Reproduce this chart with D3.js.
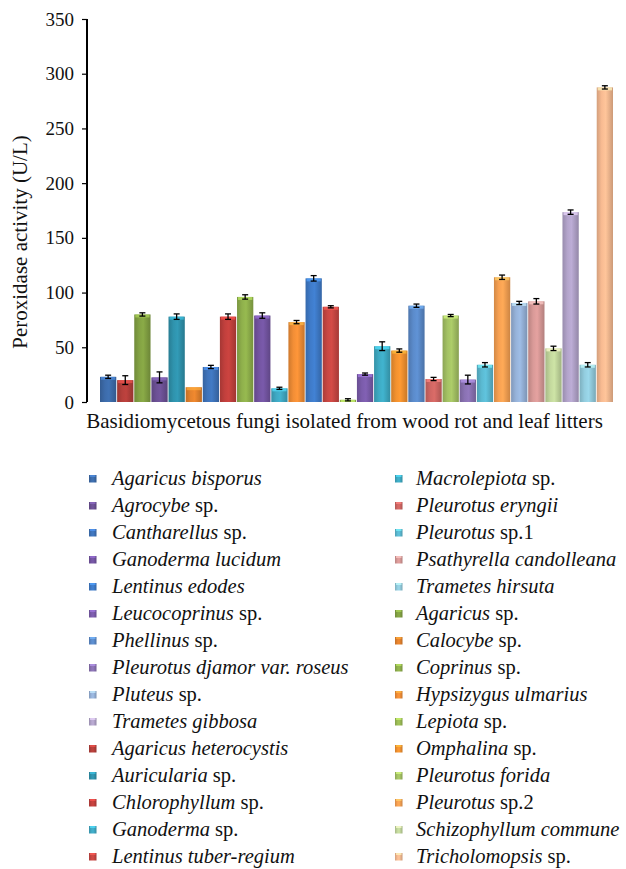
<!DOCTYPE html>
<html>
<head>
<meta charset="utf-8">
<script src="https://cdn.jsdelivr.net/npm/d3@7"></script>
<style>
  body { margin: 0; background: #fff; }
  svg { display: block; }
  svg text { font-family: "Liberation Serif", "DejaVu Serif", serif; }
</style>
</head>
<body>
<div id="chart"></div>
<script>
// bar order (Excel series order), alphabetical
const species = [
  "Agaricus bisporus", "Agaricus heterocystis", "Agaricus sp.", "Agrocybe sp.",
  "Auricularia sp.", "Calocybe sp.", "Cantharellus sp.", "Chlorophyllum sp.",
  "Coprinus sp.", "Ganoderma lucidum", "Ganoderma sp.", "Hypsizygus ulmarius",
  "Lentinus edodes", "Lentinus tuber-regium", "Lepiota sp.", "Leucocoprinus sp.",
  "Macrolepiota sp.", "Omphalina sp.", "Phellinus sp.", "Pleurotus eryngii",
  "Pleurotus forida", "Pleurotus djamor var. roseus", "Pleurotus sp.1", "Pleurotus sp.2",
  "Pluteus sp.", "Psathyrella candolleana", "Schizophyllum commune", "Trametes gibbosa",
  "Trametes hirsuta", "Tricholomopsis sp."
];
const activity = [23, 20, 80, 22.5, 78, 13.5, 32, 78, 96, 79, 12.5, 73, 113, 87, 2,
  25.5, 51, 47, 88, 21, 79, 20.5, 34, 114, 90.5, 92, 49, 173.5, 34, 287.5];
const stdErr = [1.5, 4, 1.5, 5, 2.5, 0, 1.5, 2.5, 2, 2.5, 1, 1.5, 2.5, 1, 1,
  1, 4, 1.5, 1.5, 1.5, 1, 4, 2, 2, 1.5, 2.5, 2, 2, 2, 1.5];
const barColors = [
  "#3d6cab", "#b53f3b", "#83a243", "#6c5195", "#2f93ad", "#e4822d",
  "#3f74bb", "#c2403d", "#8fb04c", "#7455a2", "#3fa9c4", "#f28e36",
  "#3f7bc9", "#c94743", "#9bbc55", "#7b5cab", "#3eabc4", "#f3922f",
  "#5b8bcb", "#d06663", "#a4c264", "#8a72b3", "#5bbad2", "#f8a152",
  "#97b3da", "#d99a98", "#c3d89d", "#b3a4cb", "#93cddf", "#f8bb92"
];
const legendCol1 = [0, 3, 6, 9, 12, 15, 18, 21, 24, 27, 1, 4, 7, 10, 13];
const legendCol2 = [16, 19, 22, 25, 28, 2, 5, 8, 11, 14, 17, 20, 23, 26, 29];
const yTicks = [0, 50, 100, 150, 200, 250, 300, 350];

const width = 626, height = 869;
const axisX = 87, y0 = 402, yTop = 19;
const serif = "'Liberation Serif', 'DejaVu Serif', serif";

const svg = d3.select("#chart").append("svg")
  .attr("width", width)
  .attr("height", height)
  .attr("font-family", serif);

const defs = svg.append("defs");

// shaded bars: dark edges, light centre
barColors.forEach((c, i) => {
  const base = d3.color(c);
  const g = defs.append("linearGradient")
    .attr("id", "grad" + i)
    .attr("x1", 0).attr("x2", 1).attr("y1", 0).attr("y2", 0);
  g.append("stop").attr("offset", "0%").attr("stop-color", base.darker(0.45));
  g.append("stop").attr("offset", "30%").attr("stop-color", base);
  g.append("stop").attr("offset", "55%").attr("stop-color", base.brighter(0.15));
  g.append("stop").attr("offset", "100%").attr("stop-color", base.darker(0.55));
});

const x = d3.scaleBand()
  .domain(d3.range(species.length))
  .range([100, 613])
  .paddingInner(0.05);

const y = d3.scaleLinear()
  .domain([0, 350])
  .range([y0, yTop]);

// bars
const bars = svg.append("g").attr("class", "bars");
bars.selectAll("rect.bar")
  .data(activity)
  .join("rect")
  .attr("class", "bar")
  .attr("x", (d, i) => x(i))
  .attr("y", d => y(d))
  .attr("width", x.bandwidth())
  .attr("height", d => y0 - y(d))
  .attr("fill", (d, i) => `url(#grad${i})`);

// bevel highlight on top of each bar
bars.selectAll("rect.cap")
  .data(activity)
  .join("rect")
  .attr("class", "cap")
  .attr("x", (d, i) => x(i) + 1)
  .attr("y", d => y(d))
  .attr("width", x.bandwidth() - 2)
  .attr("height", d => Math.min(3, y0 - y(d)))
  .attr("fill", (d, i) => d3.color(barColors[i]).brighter(0.8))
  .attr("opacity", 0.7);

// error bars
const err = svg.append("g").attr("class", "errors")
  .attr("stroke", "#000").attr("stroke-width", 1.3);
activity.forEach((v, i) => {
  const e = stdErr[i];
  if (!e) return;
  const cx = x(i) + x.bandwidth() / 2;
  err.append("line").attr("x1", cx).attr("x2", cx)
    .attr("y1", y(v - e)).attr("y2", y(v + e));
  err.append("line").attr("x1", cx - 3).attr("x2", cx + 3)
    .attr("y1", y(v - e)).attr("y2", y(v - e));
  err.append("line").attr("x1", cx - 3).attr("x2", cx + 3)
    .attr("y1", y(v + e)).attr("y2", y(v + e));
});

// y axis
const yAxis = d3.axisLeft(y).tickValues(yTicks).tickSize(5).tickPadding(8);
const gy = svg.append("g")
  .attr("transform", `translate(${axisX},0)`)
  .call(yAxis)
  .attr("font-family", serif)
  .attr("font-size", 19);
gy.select(".domain").attr("stroke", "#000").attr("stroke-width", 2)
  .attr("d", `M0,${yTop}V${y0}`);
gy.selectAll(".tick line").attr("stroke", "#000").attr("stroke-width", 1.2);
gy.selectAll(".tick text").attr("fill", "#111");

svg.append("text")
  .attr("x", 344.5).attr("y", 428)
  .attr("text-anchor", "middle")
  .attr("font-size", 21)
  .attr("fill", "#111")
  .text("Basidiomycetous fungi isolated from wood rot and leaf litters");

svg.append("text")
  .attr("transform", "translate(27,242) rotate(-90)")
  .attr("text-anchor", "middle")
  .attr("font-size", 21)
  .attr("fill", "#111")
  .text("Peroxidase activity (U/L)");

// legend
function drawLegend(order, mx, tx) {
  const g = svg.append("g");
  order.forEach((idx, r) => {
    const cy = 478.5 + r * 27;
    g.append("rect")
      .attr("x", mx).attr("y", cy - 3.5)
      .attr("width", 7.5).attr("height", 7.5)
      .attr("fill", `url(#grad${idx})`);
    g.append("rect")
      .attr("x", mx + 1).attr("y", cy - 3.5)
      .attr("width", 5.5).attr("height", 2)
      .attr("fill", d3.color(barColors[idx]).brighter(0.8))
      .attr("opacity", 0.7);
    const name = species[idx];
    const k = name.indexOf(" sp.");
    const t = g.append("text")
      .attr("x", tx).attr("y", cy + 6.5)
      .attr("font-size", 20.5)
      .attr("fill", "#111");
    if (k >= 0) {
      t.append("tspan").attr("font-style", "italic").text(name.slice(0, k));
      t.append("tspan").text(name.slice(k));
    } else {
      t.append("tspan").attr("font-style", "italic").text(name);
    }
  });
}
drawLegend(legendCol1, 89, 112);
drawLegend(legendCol2, 395, 416);
</script>
</body>
</html>
